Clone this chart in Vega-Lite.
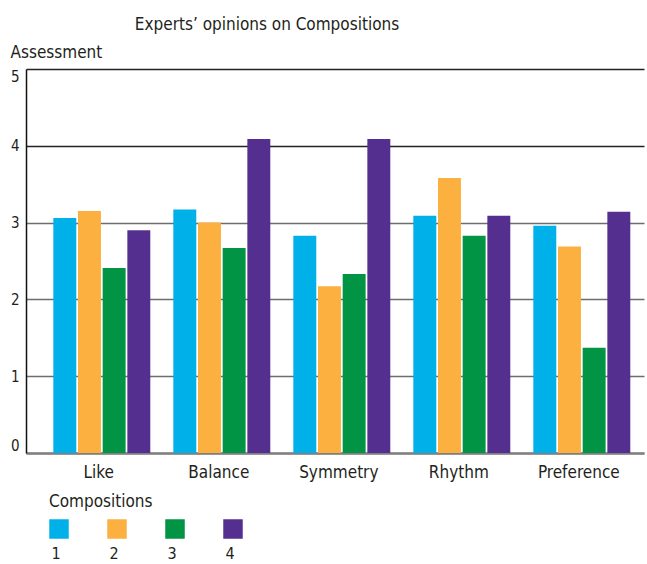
{
  "$schema": "https://vega.github.io/schema/vega-lite/v6.json",
  "autosize": "none",
  "width": 618,
  "height": 384,
  "padding": {"left": 26, "top": 69, "right": 3, "bottom": 111},
  "background": "white",
  "title": {
    "text": "Experts’ opinions on Compositions",
    "anchor": "middle",
    "dx": -68,
    "dy": -5,
    "fontSize": 17,
    "fontWeight": "normal",
    "color": "#231f20",
    "font": "Liberation Sans Narrow, DejaVu Sans Condensed, sans-serif"
  },
  "data": {
    "values": [
      {"criterion": "Like", "composition": "1", "value": 3.06},
      {"criterion": "Like", "composition": "2", "value": 3.15},
      {"criterion": "Like", "composition": "3", "value": 2.41},
      {"criterion": "Like", "composition": "4", "value": 2.90},
      {"criterion": "Balance", "composition": "1", "value": 3.17},
      {"criterion": "Balance", "composition": "2", "value": 3.00},
      {"criterion": "Balance", "composition": "3", "value": 2.67},
      {"criterion": "Balance", "composition": "4", "value": 4.09},
      {"criterion": "Symmetry", "composition": "1", "value": 2.83},
      {"criterion": "Symmetry", "composition": "2", "value": 2.17},
      {"criterion": "Symmetry", "composition": "3", "value": 2.33},
      {"criterion": "Symmetry", "composition": "4", "value": 4.09},
      {"criterion": "Rhythm", "composition": "1", "value": 3.09},
      {"criterion": "Rhythm", "composition": "2", "value": 3.58},
      {"criterion": "Rhythm", "composition": "3", "value": 2.83},
      {"criterion": "Rhythm", "composition": "4", "value": 3.09},
      {"criterion": "Preference", "composition": "1", "value": 2.96},
      {"criterion": "Preference", "composition": "2", "value": 2.69},
      {"criterion": "Preference", "composition": "3", "value": 1.37},
      {"criterion": "Preference", "composition": "4", "value": 3.14}
    ]
  },
  "mark": {"type": "bar"},
  "encoding": {
    "x": {
      "field": "criterion",
      "type": "nominal",
      "sort": ["Like", "Balance", "Symmetry", "Rhythm", "Preference"],
      "scale": {"paddingInner": 0.192, "paddingOuter": 0.171, "align": 0.666},
      "axis": {
        "title": null,
        "labelAngle": 0,
        "ticks": false,
        "grid": false,
        "domainColor": "#808080",
        "domainWidth": 2.5,
        "labelBaseline": "alphabetic",
        "labelPadding": 24,
        "labelFontSize": 17,
        "labelOffset": -3,
        "labelColor": "#231f20",
        "labelFont": "Liberation Sans Narrow, DejaVu Sans Condensed, sans-serif"
      }
    },
    "xOffset": {
      "field": "composition",
      "type": "nominal",
      "scale": {"paddingInner": 0.07, "paddingOuter": 0}
    },
    "y": {
      "field": "value",
      "type": "quantitative",
      "scale": {"domain": [0, 5], "nice": false},
      "axis": {
        "title": "Assessment",
        "titleAngle": 0,
        "titleAlign": "left",
        "titleBaseline": "alphabetic",
        "titleX": -16,
        "titleY": -12,
        "titleFontSize": 17,
        "titleFontWeight": "normal",
        "titleColor": "#231f20",
        "titleFont": "Liberation Sans Narrow, DejaVu Sans Condensed, sans-serif",
        "values": [0, 1, 2, 3, 4, 5],
        "ticks": false,
        "labelPadding": 7,
        "labelFlush": true,
        "labelFontSize": 15,
        "labelColor": "#231f20",
        "labelFont": "Liberation Sans Narrow, DejaVu Sans Condensed, sans-serif",
        "domainColor": "#111111",
        "domainWidth": 1.5,
        "grid": true,
        "gridWidth": 1.5,
        "gridOpacity": 1,
        "gridColor": {"condition": {"test": "datum.value >= 4", "value": "#222222"}, "value": "#6e6e6e"}
      }
    },
    "color": {
      "field": "composition",
      "type": "nominal",
      "scale": {"domain": ["1", "2", "3", "4"], "range": ["#00b0e8", "#fbb040", "#009444", "#552f8f"]},
      "legend": {
        "title": "Compositions",
        "orient": "none",
        "legendX": 23,
        "legendY": 425,
        "direction": "horizontal",
        "padding": 0,
        "titleFontSize": 17,
        "titleFontWeight": "normal",
        "titleColor": "#231f20",
        "titleFont": "Liberation Sans Narrow, DejaVu Sans Condensed, sans-serif",
        "titlePadding": 8,
        "symbolType": "square",
        "symbolSize": 380,
        "symbolStrokeWidth": 0,
        "symbolOpacity": 1,
        "columnPadding": 38,
        "labelAlign": "center",
        "labelOffset": -13,
        "labelFontSize": 16,
        "labelColor": "#231f20",
        "labelFont": "Liberation Sans Narrow, DejaVu Sans Condensed, sans-serif",
        "encoding": {"labels": {"dy": {"value": 25}}}
      }
    }
  },
  "config": {
    "view": {"stroke": null},
    "axis": {"labelFontWeight": "normal"}
  }
}
